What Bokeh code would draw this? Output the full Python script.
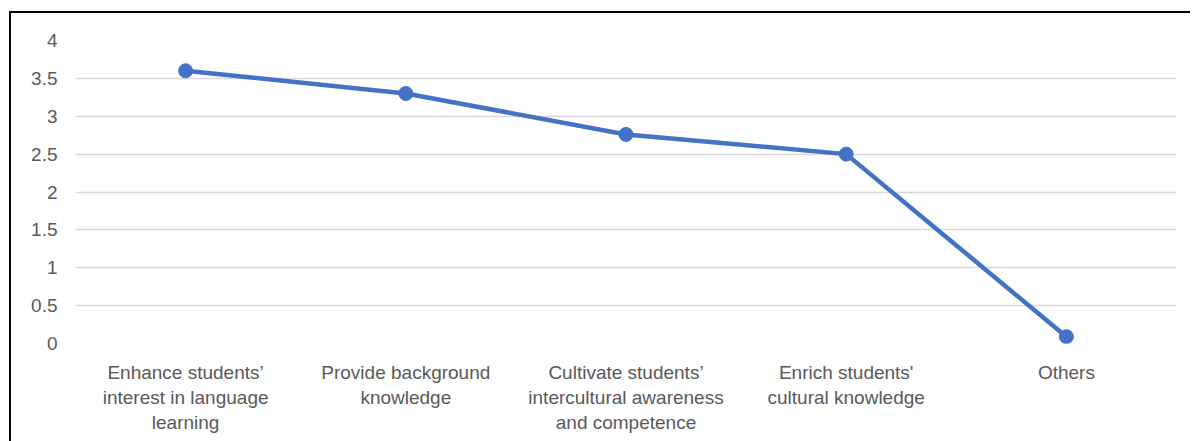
from bokeh.plotting import figure
from bokeh.models import Range1d, FixedTicker
from bokeh.embed import file_html
from bokeh.resources import INLINE

categories = [
    "Enhance students\u2019\ninterest in language\nlearning",
    "Provide background\nknowledge",
    "Cultivate students\u2019\nintercultural awareness\nand competence",
    "Enrich students'\ncultural knowledge",
    "Others",
]
values = [3.60, 3.30, 2.76, 2.50, 0.09]
y_ticks = [0, 0.5, 1, 1.5, 2, 2.5, 3, 3.5, 4]
y_tick_labels = ["0", "0.5", "1", "1.5", "2", "2.5", "3", "3.5", "4"]

FONT = "Liberation Sans"
LABEL_COLOR = "#595959"
LINE_COLOR = "#4472C4"

p = figure(
    x_range=categories,
    y_range=Range1d(0, 4),
    width=1181,
    height=430,
    output_backend="svg",
    toolbar_location=None,
    min_border_left=64,
    min_border_right=16,
    min_border_top=27,
    min_border_bottom=100,
    margin=(11, 0, 0, 9),
)
p.styles = {"border-top": "2px solid black", "border-left": "2px solid black"}
p.outline_line_color = None
p.background_fill_color = "white"
p.border_fill_color = "white"

p.line(categories, values, line_color=LINE_COLOR, line_width=4.5)
p.scatter(categories, values, size=14, fill_color=LINE_COLOR, line_color=LINE_COLOR)

for ax in (p.xaxis, p.yaxis):
    ax.axis_line_color = None
    ax.major_tick_line_color = None
    ax.minor_tick_line_color = None
    ax.major_label_text_font = FONT
    ax.major_label_text_font_size = "19px"
    ax.major_label_text_color = LABEL_COLOR

p.yaxis.ticker = FixedTicker(ticks=y_ticks)
p.yaxis.major_label_overrides = {t: l for t, l in zip(y_ticks, y_tick_labels)}
p.yaxis.major_label_standoff = 12
p.xaxis.major_label_standoff = 12

p.xgrid.grid_line_color = None
p.ygrid.grid_line_color = "#d9d9d9"
p.ygrid.grid_line_width = 1.5

open("out.html", "w").write(file_html(p, INLINE))
